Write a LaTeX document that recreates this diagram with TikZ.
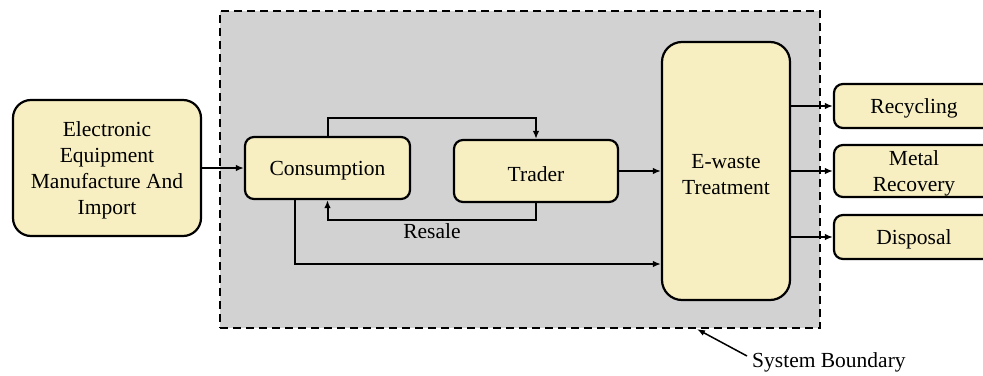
\documentclass[tikz,border=0pt]{standalone}
\usepackage{fontspec}
\setmainfont{Liberation Serif}
\usetikzlibrary{arrows.meta}
\definecolor{boxfill}{RGB}{247,239,194}
\definecolor{bggray}{RGB}{210,210,210}
\newcommand\mytopstrut{\rule{0pt}{20.5pt}}
\begin{document}
\begin{tikzpicture}[x=1pt,y=-1pt,
  every node/.style={font=\fontsize{21.5}{26}\selectfont},
  box/.style={draw=black, line width=2.2pt, fill=boxfill, rounded corners=9pt, align=center, inner sep=0pt},
  conn/.style={line width=2pt, -{Latex[length=8pt,width=6.5pt]}},
  plain/.style={line width=2pt}]
\useasboundingbox (0,0) rectangle (983,375);
% system boundary
\node[draw=black, fill=bggray, dashed, dash pattern=on 8pt off 5pt, line width=2.2pt,
      minimum width=600pt, minimum height=317pt, inner sep=0pt] (bnd) at (520,169.5) {};
% nodes
\node[box, rounded corners=18pt, minimum width=188pt, minimum height=136pt] (mfg) at (107,168)
  {\mytopstrut Electronic\\Equipment\\Manufacture And\\Import};
\node[box, minimum width=165pt, minimum height=62pt] (cons) at (327.5,168) {\mytopstrut Consumption};
\node[box, minimum width=164pt, minimum height=62pt] (trader) at (536,171) {\mytopstrut Trader};
\node[box, rounded corners=20pt, minimum width=128pt, minimum height=258pt] (ewaste) at (726,171)
  {\mytopstrut E-waste\\Treatment};
\node[box, minimum width=160pt, minimum height=44pt] (rec) at (914,106) {\mytopstrut Recycling};
\node[box, minimum width=160pt, minimum height=52pt] (metal) at (914,171) {\mytopstrut Metal\\Recovery};
\node[box, minimum width=160pt, minimum height=44pt] (disp) at (914,237) {\mytopstrut Disposal};
% connectors
\draw[conn] (mfg) -- (cons);
\draw[conn] (cons.north) -- (cons.north |- 0,118) -| (trader.north);
\draw[conn] (trader.south) -- (trader.south |- 0,220) -| (cons.south);
\node (resale) at (432,231) {Resale};
\draw[conn] ([xshift=-32.5pt]cons.south) |- (ewaste.west |- 0,264);
\draw[conn] (trader.east) -- (trader.east -| ewaste.west);
\draw[conn] (ewaste.east |- rec) -- (rec.west);
\draw[conn] (ewaste.east |- metal) -- (metal.west);
\draw[conn] (ewaste.east |- disp) -- (disp.west);
% system boundary label
\node[inner sep=0pt, anchor=west] (sb) at (752,362) {System Boundary};
\coordinate (sbstart) at (747,356);
\draw[line width=1.5pt, -{Latex[length=8pt,width=6pt]}] (sbstart) -- ([xshift=177pt]bnd.south);
\end{tikzpicture}
\end{document}
